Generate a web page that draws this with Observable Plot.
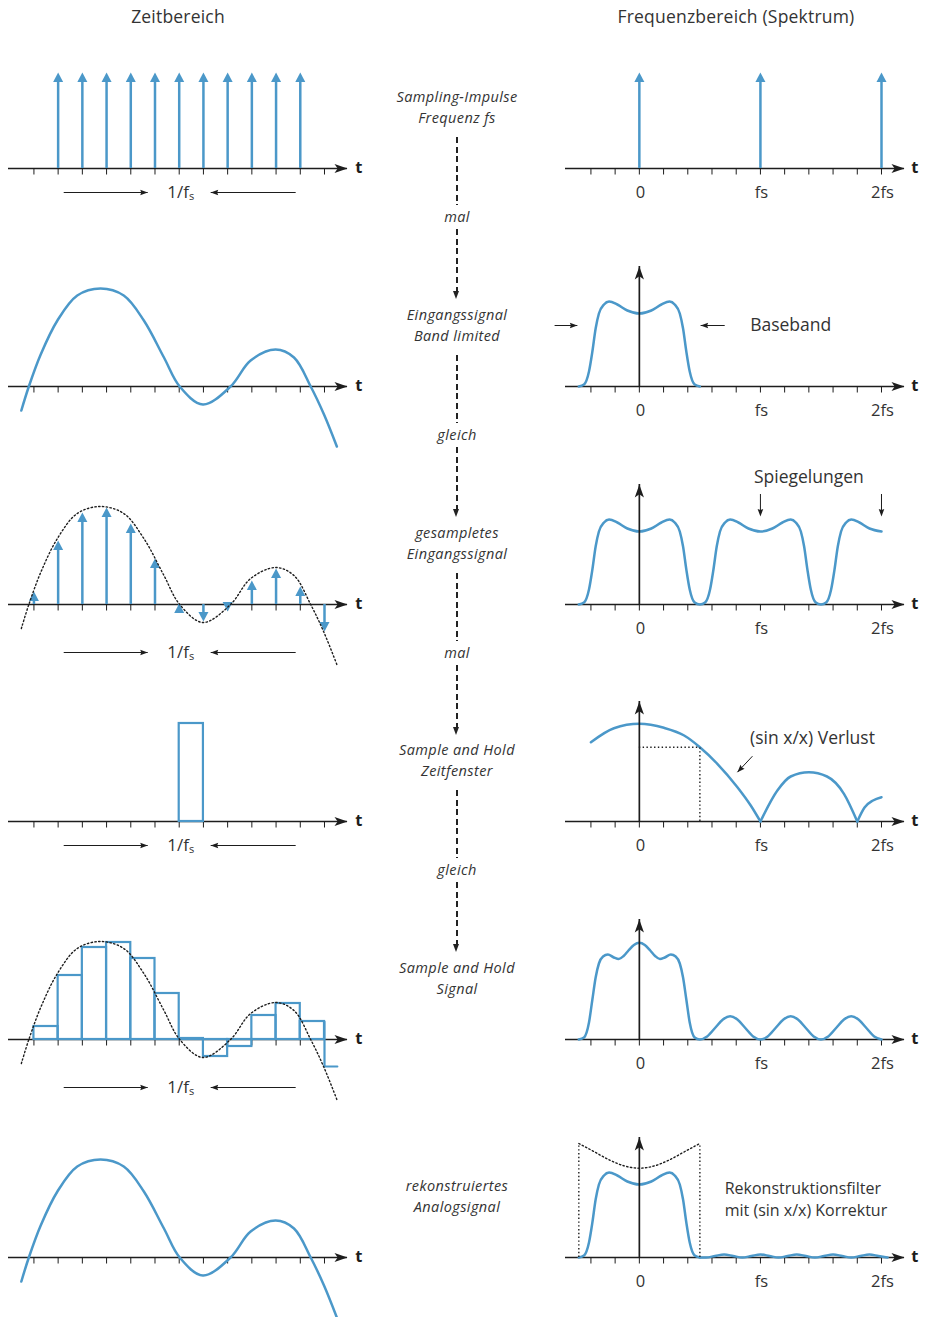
<!DOCTYPE html>
<html>
<head>
<meta charset="utf-8">
<script src="https://cdn.jsdelivr.net/npm/d3@7"></script>
<script src="https://cdn.jsdelivr.net/npm/@observablehq/plot@0.6"></script>
<style>
html, body { margin: 0; padding: 0; background: #fff; }
#page { position: relative; width: 925px; height: 1317px; overflow: hidden; font-family: "Open Sans", sans-serif; color: #333; }
#page svg { position: absolute; overflow: visible; background: transparent; }
.head { position: absolute; top: 5px; font-size: 17.5px; line-height: 22px; transform: translateX(-50%); white-space: nowrap; letter-spacing: 0.2px; }
.mid { position: absolute; left: 457px; transform: translateX(-50%); font-style: italic; font-size: 14.5px; line-height: 21px; text-align: center; white-space: nowrap; letter-spacing: 0.4px; color: #333; }
.dash { position: absolute; left: 456px; width: 1.7px; background: repeating-linear-gradient(to bottom, #222 0 6px, transparent 6px 9.6px); }
.ahead { position: absolute; left: 453.2px; width: 0; height: 0; border-left: 3.8px solid transparent; border-right: 3.8px solid transparent; border-top: 8px solid #222; }
g[aria-label="ticklabels"] text { letter-spacing: 2px; }
g[aria-label="period"] text { letter-spacing: 2.4px; }
g[aria-label="filtertext"] text { letter-spacing: 0.85px; }
</style>
</head>
<body>
<div id="page"></div>
<script>
// ---------------- DATA ----------------
const columnTitles = ["Zeitbereich", "Frequenzbereich (Spektrum)"];
const middleLabels = [
  ["Sampling-Impulse", "Frequenz fs"],
  ["Eingangssignal", "Band limited"],
  ["gesampletes", "Eingangssignal"],
  ["Sample and Hold", "Zeitfenster"],
  ["Sample and Hold", "Signal"],
  ["rekonstruiertes", "Analogsignal"]
];
const connectorLabels = ["mal", "gleich", "mal", "gleich"];

// time domain (x = sample number)
const timeTicks = [0, 1, 2, 3, 4, 5, 6, 7, 8, 9, 10, 11, 12];
const impulseTimes = [1, 2, 3, 4, 5, 6, 7, 8, 9, 10, 11];
const impulseAmplitude = 96;
const signalTime = [-0.52, -0.21, 0.28, 0.97, 1.79, 2.75, 3.71, 4.54, 5.37, 6.02, 6.98, 8.12, 8.95, 9.98, 10.74, 11.43, 11.98, 12.51];
const signalValue = [-24, 0, 32, 66, 91, 98, 91, 66, 29, 0, -18, 0, 26, 37, 29, 0, -28, -60];
const sampleTimes = timeTicks;
const sampleValues = [13, 64, 92, 97, 81, 46, 1, -17, -7, 24, 36, 18, -27];
const holdWindow = [6, 7];
const holdHeight = 98;
const holdEnd = 12.53;
const periodArrowFrom = [1.23, 10.81];
const periodArrowTo = [4.70, 7.30];
const periodLabel = "1/fₛ";
const periodLabelAt = 6.02;

// frequency domain (x in units of fs)
const freqTicks = [-0.4, -0.2, 0, 0.2, 0.4, 0.6, 0.8, 1, 1.2, 1.4, 1.6, 1.8, 2];
const freqLabelPos = [0, 1, 2];
const freqLabelText = ["0", "fs", "2fs"];
const impulseFreqs = [0, 1, 2];
const basebandF = [-0.5, -0.457, -0.416, -0.388, -0.361, -0.334, -0.292, -0.25, -0.182, -0.099, 0, 0.099, 0.182, 0.25, 0.292, 0.334, 0.361, 0.388, 0.416, 0.457, 0.5];
const basebandA = [0, 2, 15, 35, 58, 73, 82, 85, 82, 76, 73, 76, 82, 85, 82, 73, 58, 35, 15, 2, 0];
const imageCenters = [0, 1, 2];
const shF = [-0.5, -0.457, -0.416, -0.388, -0.361, -0.334, -0.30, -0.26, -0.21, -0.17, -0.13, -0.09, -0.045, 0, 0.045, 0.09, 0.13, 0.17, 0.21, 0.26, 0.30, 0.334, 0.361, 0.388, 0.416, 0.457, 0.5,
  0.56, 0.625, 0.69, 0.75, 0.81, 0.875, 0.94, 1.0, 1.06, 1.125, 1.19, 1.25, 1.31, 1.375, 1.44, 1.5, 1.56, 1.625, 1.69, 1.75, 1.81, 1.875, 1.94, 2.0];
const shA = [0, 2, 17, 40, 62, 76, 83, 85, 82, 80.5, 83.5, 89, 94.5, 96.7, 94.5, 89, 83.5, 80.5, 82, 85, 83, 76, 62, 40, 17, 2, 0,
  3, 11.5, 20, 23.3, 20, 11.5, 3, 0, 3, 11.5, 20, 23.3, 20, 11.5, 3, 0, 3, 11.5, 20, 23.3, 20, 11.5, 3, 0];
const sincF = [-0.4, -0.21, 0, 0.203, 0.37, 0.5, 0.644, 0.81, 0.92, 1.0, 1.0, 1.14, 1.25, 1.4, 1.55, 1.69, 1.8, 1.8, 1.86, 1.93, 2.0];
const sincA = [79.3, 93.3, 97.7, 93.7, 86, 74.3, 57.7, 34.3, 16, 0, 0, 31, 45, 49.3, 45, 27.7, 0, 0, 14, 21, 24.3];
const sincLobe = [0, 0, 0, 0, 0, 0, 0, 0, 0, 0, 1, 1, 1, 1, 1, 1, 1, 2, 2, 2, 2];
const lossF = 0.5, lossA = 74.3;
const filterF = [-0.5, -0.376, -0.25, -0.127, 0, 0.127, 0.25, 0.376, 0.5];
const filterA = [114, 106, 97.7, 91.7, 89.3, 91.7, 97.7, 106, 114];
const rippleF = [0.5, 0.55, 0.625, 0.70, 0.775, 0.85, 0.925, 1.0, 1.075, 1.15, 1.225, 1.3, 1.375, 1.45, 1.525, 1.6, 1.675, 1.75, 1.825, 1.9, 1.975, 2.05];
const rippleA = [0, 0, 1.5, 3, 1.5, 0, 1.5, 3, 1.5, 0, 1.5, 3, 1.5, 0, 1.5, 3, 1.5, 0, 1.5, 3, 1.5, 0];

// annotations (frequency panels)
const basebandMarkFrom = [-0.70, 0.705], basebandMarkTo = [-0.512, 0.506], basebandMarkA = 61;
const basebandText = {f: 1.25, a: 61, text: "Baseband"};
const mirrorText = {f: 1.40, a: 127, text: "Spiegelungen"};
const mirrorArrowF = [1, 2], mirrorArrowA = [110, 88];
const lossText = {f: 1.43, a: 83, text: "(sin x/x) Verlust"};
const lossArrow = {f1: 0.934, a1: 65.3, f2: 0.81, a2: 49.3};
const filterText = {f: 0.705, a: 60, text: "Rekonstruktionsfilter\nmit (sin x/x) Korrektur"};

// ---------------- LAYOUT / STYLE ----------------
const blue = "#4b98c9";
const ink = "#1d1d1d";
const dotDash = "1.4,2.4";
const rowBaseY = [168, 386, 603.5, 821, 1039, 1257];
const panelTop = 130, panelBottom = 88;
const tAxis = [-1.05, 12.95], tLabelX = 13.42;
const fAxis = [-0.61, 2.19], fLabelX = 2.275;
const vAxisTop = 120;
const labelDrop = -24;
const periodDropNear = -24, periodDropFar = -48;

function head(angleDeg, len, halfW, notch = 0) {
  const a = angleDeg * Math.PI / 180, c = Math.cos(a), s = Math.sin(a);
  const pts = [[0, 0], [-len, -halfW], [-len + notch, 0], [-len, halfW]].map(([u, v]) => [u * c - v * s, u * s + v * c]);
  return {draw(ctx) { ctx.moveTo(pts[0][0], pts[0][1]); for (let i = 1; i < pts.length; i++) ctx.lineTo(pts[i][0], pts[i][1]); ctx.closePath(); }};
}
const tickSym = {draw(ctx) { ctx.moveTo(0, 0); ctx.lineTo(0, 6); }};
const headUp = head(-90, 9.5, 5), headDown = head(90, 9.5, 5);
const axisRight = head(0, 13, 4.6, 3.2), axisUp = head(-90, 13, 4.6, 3.2);
const smallRight = head(0, 7.5, 2.8, 1), smallLeft = head(180, 7.5, 2.8, 1), smallDown = head(90, 7.5, 2.8, 1);
const lossAngle = Math.atan2(-(lossArrow.a2 - lossArrow.a1), (lossArrow.f2 - lossArrow.f1) * 121.07) * 180 / Math.PI;
const smallLoss = head(lossAngle, 7.5, 2.8, 1);

const page = document.getElementById("page");

function axisMarks(kind) {
  const ext = kind === "t" ? tAxis : fAxis;
  const ticks = kind === "t" ? timeTicks : freqTicks;
  const m = [
    Plot.ruleY([0], {x1: ext[0], x2: ext[1], stroke: ink, strokeWidth: 1.7}),
    Plot.dot(ticks, {x: d => d, y: 0, symbol: tickSym, stroke: ink, strokeWidth: 1, fill: "none"}),
    Plot.dot([ext[1]], {x: d => d, y: 0, symbol: axisRight, fill: ink, stroke: "none"}),
    Plot.text(["t"], {x: kind === "t" ? tLabelX : fLabelX, y: 0, text: d => d, fontSize: 16.5, fontWeight: 700, fill: ink, dy: -1})
  ];
  if (kind === "f") {
    m.push(Plot.text(freqLabelPos, {x: d => d, y: labelDrop, text: (d, i) => freqLabelText[i], fontSize: 16.5, fill: "#333", ariaLabel: "ticklabels", dx: 1}));
  }
  return m;
}
function verticalAxis() {
  return [
    Plot.ruleX([0], {y1: 0, y2: vAxisTop, stroke: ink, strokeWidth: 1.7}),
    Plot.dot([0], {x: d => d, y: vAxisTop, symbol: axisUp, fill: ink, stroke: "none"})
  ];
}
function periodMarks(drop) {
  return [
    Plot.link([0, 1], {x1: i => periodArrowFrom[i], x2: i => periodArrowTo[i], y1: drop, y2: drop, stroke: ink, strokeWidth: 1}),
    Plot.dot([periodArrowTo[0]], {x: d => d, y: drop, symbol: smallRight, fill: ink, stroke: "none"}),
    Plot.dot([periodArrowTo[1]], {x: d => d, y: drop, symbol: smallLeft, fill: ink, stroke: "none"}),
    Plot.text([periodLabel], {x: periodLabelAt, y: drop, text: d => d, fontSize: 17, fill: "#333", ariaLabel: "period", dx: 1})
  ];
}

function panel(kind, row, marks) {
  const isT = kind === "t";
  const svg = Plot.plot({
    width: isT ? 380 : 385,
    height: panelTop + panelBottom,
    marginLeft: isT ? 8 : 25,
    marginRight: isT ? 33 : 21,
    marginTop: 0,
    marginBottom: 0,
    x: {domain: isT ? tAxis : fAxis, axis: null},
    y: {domain: [-panelBottom, panelTop], axis: null},
    style: {fontFamily: '"Open Sans", sans-serif', fontSize: "15px", color: "#333", overflow: "visible", background: "transparent"},
    marks
  });
  svg.style.left = (isT ? 0 : 540) + "px";
  svg.style.top = (rowBaseY[row] - panelTop) + "px";
  page.appendChild(svg);
}

// ---------- derived tables ----------
const signal = signalTime.map((t, i) => ({t, v: signalValue[i]}));
const samples = sampleTimes.map((t, i) => ({t, v: sampleValues[i]}));
const samplesPos = samples.filter(d => d.v >= 0), samplesNeg = samples.filter(d => d.v < 0);
const bars = sampleTimes.slice(0, -1).map((t, i) => ({x1: t, x2: sampleTimes[i + 1], v: sampleValues[i]}));
const lastN = sampleTimes.length - 1;
const lastStep = [
  {t: sampleTimes[lastN], v: sampleValues[lastN - 1]},
  {t: sampleTimes[lastN], v: sampleValues[lastN]},
  {t: holdEnd, v: sampleValues[lastN]}
];
const baseband = basebandF.map((f, i) => ({f, a: basebandA[i]}));
const mirrored = imageCenters.flatMap((c, k) => basebandF.map((f, j) => ({f: f + c, a: basebandA[j], j})).filter(d => k === 0 || d.j > 0)).filter(d => d.f <= 2.0001);
const shSpectrum = shF.map((f, i) => ({f, a: shA[i]}));
const sinc = sincF.map((f, i) => ({f, a: sincA[i], lobe: sincLobe[i]}));
const filterCurve = filterF.map((f, i) => ({f, a: filterA[i]}));
const ripple = rippleF.map((f, i) => ({f, a: rippleA[i]}));

const signalLine = (opts) => Plot.line(signal, {x: "t", y: "v", curve: "catmull-rom", ...opts});
const blueLine = {stroke: blue, strokeWidth: 2.5, fill: "none"};
const dottedLine = {stroke: ink, strokeWidth: 1.4, strokeDasharray: dotDash, fill: "none"};

// ---------------- LEFT COLUMN ----------------
panel("t", 0, [
  ...axisMarks("t"),
  Plot.ruleX(impulseTimes, {x: d => d, y1: impulseAmplitude, y2: 0, stroke: blue, strokeWidth: 2.5, insetTop: 6}),
  Plot.dot(impulseTimes, {x: d => d, y: impulseAmplitude, symbol: headUp, fill: blue, stroke: "none"}),
  ...periodMarks(periodDropNear)
]);
panel("t", 1, [
  ...axisMarks("t"),
  signalLine(blueLine)
]);
panel("t", 2, [
  ...axisMarks("t"),
  Plot.ruleX(samplesPos, {x: "t", y1: "v", y2: 0, stroke: blue, strokeWidth: 2.5, insetTop: 6}),
  Plot.ruleX(samplesNeg, {x: "t", y1: 0, y2: "v", stroke: blue, strokeWidth: 2.5, insetBottom: 6}),
  Plot.dot(samplesPos, {x: "t", y: "v", symbol: headUp, fill: blue, stroke: "none"}),
  Plot.dot(samplesNeg, {x: "t", y: "v", symbol: headDown, fill: blue, stroke: "none"}),
  signalLine(dottedLine),
  ...periodMarks(periodDropFar)
]);
panel("t", 3, [
  ...axisMarks("t"),
  Plot.rect([holdHeight], {x1: holdWindow[0], x2: holdWindow[1], y1: 0, y2: d => d, fill: "none", stroke: blue, strokeWidth: 2.2}),
  ...periodMarks(periodDropNear)
]);
panel("t", 4, [
  ...axisMarks("t"),
  Plot.rect(bars, {x1: "x1", x2: "x2", y1: 0, y2: "v", fill: "none", stroke: blue, strokeWidth: 2.2}),
  Plot.line(lastStep, {x: "t", y: "v", stroke: blue, strokeWidth: 2.2}),
  signalLine(dottedLine),
  ...periodMarks(periodDropFar)
]);
panel("t", 5, [
  ...axisMarks("t"),
  signalLine(blueLine)
]);

// ---------------- RIGHT COLUMN ----------------
const labelStyle = {fontSize: 17.5, fill: "#333"};
panel("f", 0, [
  ...axisMarks("f"),
  Plot.ruleX(impulseFreqs, {x: d => d, y1: impulseAmplitude, y2: 0, stroke: blue, strokeWidth: 2.5, insetTop: 6}),
  Plot.dot(impulseFreqs, {x: d => d, y: impulseAmplitude, symbol: headUp, fill: blue, stroke: "none"})
]);
panel("f", 1, [
  ...axisMarks("f"),
  Plot.line(baseband, {x: "f", y: "a", curve: "monotone-x", ...blueLine}),
  ...verticalAxis(),
  Plot.link([0, 1], {x1: i => basebandMarkFrom[i], x2: i => basebandMarkTo[i], y1: basebandMarkA, y2: basebandMarkA, stroke: ink, strokeWidth: 1}),
  Plot.dot([basebandMarkTo[0]], {x: d => d, y: basebandMarkA, symbol: smallRight, fill: ink, stroke: "none"}),
  Plot.dot([basebandMarkTo[1]], {x: d => d, y: basebandMarkA, symbol: smallLeft, fill: ink, stroke: "none"}),
  Plot.text([basebandText], {x: "f", y: "a", text: "text", ...labelStyle})
]);
panel("f", 2, [
  ...axisMarks("f"),
  Plot.line(mirrored, {x: "f", y: "a", curve: "monotone-x", ...blueLine}),
  ...verticalAxis(),
  Plot.ruleX(mirrorArrowF, {x: d => d, y1: mirrorArrowA[0], y2: mirrorArrowA[1], stroke: ink, strokeWidth: 1, insetBottom: 3}),
  Plot.dot(mirrorArrowF, {x: d => d, y: mirrorArrowA[1], symbol: smallDown, fill: ink, stroke: "none"}),
  Plot.text([mirrorText], {x: "f", y: "a", text: "text", ...labelStyle})
]);
panel("f", 3, [
  ...axisMarks("f"),
  Plot.line(sinc, {x: "f", y: "a", z: "lobe", curve: "monotone-x", ...blueLine}),
  Plot.ruleY([lossA], {x1: 0, x2: lossF, y: d => d, ...dottedLine}),
  Plot.ruleX([lossF], {x: d => d, y1: 0, y2: lossA, ...dottedLine}),
  ...verticalAxis(),
  Plot.link([lossArrow], {x1: "f1", y1: "a1", x2: "f2", y2: "a2", stroke: ink, strokeWidth: 1}),
  Plot.dot([lossArrow], {x: "f2", y: "a2", symbol: smallLoss, fill: ink, stroke: "none"}),
  Plot.text([lossText], {x: "f", y: "a", text: "text", ...labelStyle})
]);
panel("f", 4, [
  ...axisMarks("f"),
  Plot.line(shSpectrum, {x: "f", y: "a", curve: "monotone-x", ...blueLine}),
  ...verticalAxis()
]);
panel("f", 5, [
  ...axisMarks("f"),
  Plot.line(baseband, {x: "f", y: "a", curve: "monotone-x", ...blueLine}),
  Plot.line(ripple, {x: "f", y: "a", curve: "monotone-x", ...blueLine}),
  Plot.line(filterCurve, {x: "f", y: "a", curve: "monotone-x", ...dottedLine}),
  Plot.ruleX([filterF[0], filterF[filterF.length - 1]], {x: d => d, y1: 0, y2: filterA[0], ...dottedLine}),
  ...verticalAxis(),
  Plot.text([filterText], {x: "f", y: "a", text: "text", textAnchor: "start", lineHeight: 1.375, fontSize: 16, fill: "#333", ariaLabel: "filtertext"})
]);

// ---------------- HEADERS & MIDDLE COLUMN ----------------
const titleCenters = [178, 736];
columnTitles.forEach((t, i) => {
  const d = document.createElement("div");
  d.className = "head"; d.textContent = t; d.style.left = titleCenters[i] + "px";
  page.appendChild(d);
});
middleLabels.forEach((lines, r) => {
  const d = document.createElement("div");
  d.className = "mid";
  d.innerHTML = lines.join("<br>");
  d.style.top = (rowBaseY[r] - 82) + "px";
  page.appendChild(d);
});
connectorLabels.forEach((lab, r) => {
  const y = rowBaseY[r];
  const s1 = document.createElement("div"); s1.className = "dash";
  s1.style.top = (y - 31) + "px"; s1.style.height = "68px"; page.appendChild(s1);
  const t = document.createElement("div"); t.className = "mid"; t.textContent = lab;
  t.style.top = (y + 38) + "px"; page.appendChild(t);
  const s2 = document.createElement("div"); s2.className = "dash";
  s2.style.top = (y + 61) + "px"; s2.style.height = "63px"; page.appendChild(s2);
  const h = document.createElement("div"); h.className = "ahead";
  h.style.top = (y + 123) + "px"; page.appendChild(h);
});
</script>
</body>
</html>
